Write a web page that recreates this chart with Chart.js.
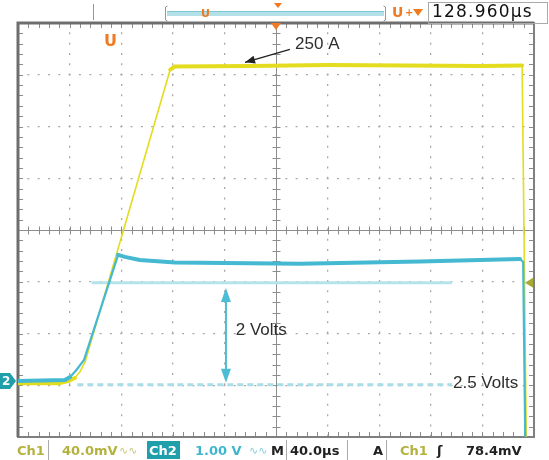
<!DOCTYPE html>
<html>
<head>
<meta charset="utf-8">
<script src="https://cdn.jsdelivr.net/npm/chart.js"></script>
<style>
html, body { margin: 0; padding: 0; background: #fff; }
#wrap { width: 549px; height: 460px; position: relative; }
</style>
</head>
<body>
<div id="wrap"><canvas id="scope"></canvas></div>
<script>
/*------------------------------*/
/*   Traces, in screen divisions */
/*   x: 0..10, y: 0..8          */
/*------------------------------*/
var ch1X = [0, 0.81, 0.97, 1.10, 1.20, 1.30, 2.95, 3.04, 4.50, 6.00, 7.50, 9.00, 9.77, 9.85]
var ch1Y = [1.04, 1.04, 1.08, 1.14, 1.26, 1.45, 7.10, 7.16, 7.17, 7.19, 7.18, 7.17, 7.18, 0]

var ch2X = [0, 0.91, 1.01, 1.12, 1.28, 1.94, 2.07, 2.36, 3.04, 5.47, 7.79, 9.73, 9.79, 9.83]
var ch2Y = [1.08, 1.10, 1.16, 1.28, 1.49, 3.52, 3.48, 3.42, 3.37, 3.35, 3.39, 3.44, 3.38, 0]

// cursors (2 Volts apart)
var cursorTopX = [1.43, 8.41]
var cursorTopY = [2.98, 2.98]
var cursorLowX = [1.15, 8.41]
var cursorLowY = [1.01, 1.01]
var ch2Ground = 1.08

// measurement arrows
var voltArrowX = [4.03, 4.03]
var voltArrowY = [2.88, 1.05]
var ampArrowX = [5.27, 4.40]
var ampArrowY = [7.49, 7.24]

function pts(xs, ys) {
    return xs.map(function (x, i) { return { x: x, y: ys[i] } })
}

// noisy flat parts look thicker than the fast edges
function traceWidth(thick, thin) {
    return function (ctx) {
        var dx = Math.abs(ctx.p1.x - ctx.p0.x)
        var dy = Math.abs(ctx.p1.y - ctx.p0.y)
        return dy < dx ? thick : thin
    }
}

function gridColor(mid, end) {
    return function (ctx) {
        var v = ctx.tick ? ctx.tick.value : -1
        return (v === 0 || v === mid || v === end) ? 'rgba(0,0,0,0)' : '#a8a8a8'
    }
}

var OLIVE = '#b3b23e'
var TEAL = '#1f9fa9'
var CYAN = '#3fb6cf'
var ORANGE = '#f07a22'

var scopeDecor = {
    id: 'scopeDecor',
    beforeDatasetsDraw: function (chart) {
        var c = chart.ctx, a = chart.chartArea
        var xs = chart.scales.x, ys = chart.scales.y
        var cx = Math.round(xs.getPixelForValue(5)) + 0.5
        var cy = Math.round(ys.getPixelForValue(4)) + 0.5
        c.save()
        c.strokeStyle = '#8c8c8c'
        c.lineWidth = 1
        c.beginPath()
        c.moveTo(a.left, cy); c.lineTo(a.right, cy)
        c.moveTo(cx, a.top); c.lineTo(cx, a.bottom)
        for (var i = 0; i <= 50; i++) {
            var px = Math.round(xs.getPixelForValue(i * 0.2)) + 0.5
            c.moveTo(px, cy - 4); c.lineTo(px, cy + 4)
            c.moveTo(px, a.top); c.lineTo(px, a.top + 5)
            c.moveTo(px, a.bottom); c.lineTo(px, a.bottom - 5)
        }
        for (var j = 0; j <= 40; j++) {
            var py = Math.round(ys.getPixelForValue(j * 0.2)) + 0.5
            c.moveTo(cx - 4, py); c.lineTo(cx + 4, py)
            c.moveTo(a.left, py); c.lineTo(a.left + 5, py)
            c.moveTo(a.right, py); c.lineTo(a.right - 5, py)
        }
        c.stroke()
        // frame
        c.strokeStyle = '#808080'
        c.lineWidth = 2
        c.strokeRect(a.left, a.top, a.right - a.left, a.bottom - a.top)
        c.lineWidth = 3
        c.strokeStyle = '#6e6e6e'
        c.beginPath()
        c.moveTo(a.left, a.bottom); c.lineTo(a.left, a.top); c.lineTo(a.right, a.top)
        c.stroke()
        c.restore()
    },
    afterDatasetsDraw: function (chart) {
        var c = chart.ctx, a = chart.chartArea
        var xs = chart.scales.x, ys = chart.scales.y
        c.save()
        // 2 Volts double arrow
        var ax = xs.getPixelForValue(voltArrowX[0])
        var ay0 = ys.getPixelForValue(voltArrowY[0])
        var ay1 = ys.getPixelForValue(voltArrowY[1])
        c.strokeStyle = '#4dbdd5'
        c.fillStyle = '#4dbdd5'
        c.lineWidth = 2
        c.beginPath()
        c.moveTo(ax, ay0 + 10); c.lineTo(ax, ay1 - 10)
        c.stroke()
        c.beginPath()
        c.moveTo(ax, ay0); c.lineTo(ax - 5, ay0 + 14); c.lineTo(ax + 5, ay0 + 14); c.closePath()
        c.moveTo(ax, ay1); c.lineTo(ax - 5, ay1 - 14); c.lineTo(ax + 5, ay1 - 14); c.closePath()
        c.fill()
        // 250 A pointer
        var bx0 = xs.getPixelForValue(ampArrowX[0]), by0 = ys.getPixelForValue(ampArrowY[0])
        var bx1 = xs.getPixelForValue(ampArrowX[1]), by1 = ys.getPixelForValue(ampArrowY[1])
        var ang = Math.atan2(by1 - by0, bx1 - bx0)
        c.strokeStyle = '#222'
        c.fillStyle = '#222'
        c.lineWidth = 1.3
        c.beginPath(); c.moveTo(bx0, by0); c.lineTo(bx1, by1); c.stroke()
        c.beginPath()
        c.moveTo(bx1, by1)
        c.lineTo(bx1 - 10 * Math.cos(ang) + 4 * Math.sin(ang), by1 - 10 * Math.sin(ang) - 4 * Math.cos(ang))
        c.lineTo(bx1 - 10 * Math.cos(ang) - 4 * Math.sin(ang), by1 - 10 * Math.sin(ang) + 4 * Math.cos(ang))
        c.closePath(); c.fill()
        // labels
        c.fillStyle = '#2e2e2e'
        c.font = '17px "Liberation Sans", Arial, sans-serif'
        c.textBaseline = 'middle'
        c.fillText('250 A', xs.getPixelForValue(5.37), ys.getPixelForValue(7.58))
        c.fillText('2 Volts', xs.getPixelForValue(4.22), ys.getPixelForValue(2.07))
        c.fillText('2.5 Volts', xs.getPixelForValue(8.43), ys.getPixelForValue(1.04))
        // trigger marks
        var tx = xs.getPixelForValue(5)
        c.fillStyle = ORANGE
        c.beginPath(); c.moveTo(tx - 5, a.top); c.lineTo(tx + 5, a.top); c.lineTo(tx, a.top + 7); c.closePath(); c.fill()
        c.font = 'bold 16px "DejaVu Sans", sans-serif'
        c.fillText('U', 104, 42)
        var ly = ys.getPixelForValue(cursorTopY[0])
        c.fillStyle = '#a9a832'
        c.beginPath(); c.moveTo(a.right - 9, ly); c.lineTo(a.right - 1, ly - 5); c.lineTo(a.right - 1, ly + 5); c.closePath(); c.fill()
        // ch2 ground marker
        var gy = ys.getPixelForValue(ch2Ground)
        c.fillStyle = TEAL
        c.beginPath()
        c.moveTo(0, gy - 8); c.lineTo(10, gy - 8); c.lineTo(16, gy); c.lineTo(10, gy + 8); c.lineTo(0, gy + 8)
        c.closePath(); c.fill()
        c.fillStyle = '#fff'
        c.font = 'bold 12px "DejaVu Sans", sans-serif'
        c.fillText('2', 2, gy + 1)
        c.restore()
    },
    afterDraw: function (chart) {
        var c = chart.ctx
        c.save()
        // top status strip
        c.strokeStyle = '#999'
        c.lineWidth = 1
        c.beginPath()
        c.moveTo(93.5, 4); c.lineTo(93.5, 20)
        c.moveTo(167.5, 6); c.lineTo(165.5, 7); c.lineTo(165.5, 20); c.lineTo(167.5, 21)
        c.moveTo(383.5, 6); c.lineTo(385.5, 7); c.lineTo(385.5, 20); c.lineTo(383.5, 21)
        c.stroke()
        c.fillStyle = '#b3e1e7'
        c.fillRect(167, 11, 217, 5)
        c.fillStyle = '#7cc8d4'
        c.fillRect(167, 11, 217, 1)
        c.fillStyle = ORANGE
        c.font = 'bold 11px "DejaVu Sans", sans-serif'
        c.textBaseline = 'middle'
        c.fillText('U', 201, 14)
        c.beginPath(); c.moveTo(274, 3); c.lineTo(282, 3); c.lineTo(278, 8); c.closePath(); c.fill()
        c.font = 'bold 14px "DejaVu Sans", sans-serif'
        c.fillText('U', 392, 13)
        c.font = 'bold 10px "DejaVu Sans", sans-serif'
        c.fillText('+', 405, 13)
        c.beginPath(); c.moveTo(413, 9); c.lineTo(423, 9); c.lineTo(418, 16); c.closePath(); c.fill()
        c.strokeStyle = '#aaa'
        c.strokeRect(428.5, 2.5, 119, 21)
        c.fillStyle = '#111'
        c.font = '17px "DejaVu Sans", sans-serif'
        c.letterSpacing = '1.2px'
        c.fillText('128.960µs', 432, 13)
        c.letterSpacing = '0px'

        // bottom status strip
        c.textBaseline = 'alphabetic'
        c.font = 'bold 13px "DejaVu Sans", sans-serif'
        var base = 455
        c.fillStyle = OLIVE
        c.fillText('Ch1', 17, base)
        c.fillText('40.0mV', 62, base)
        c.fillStyle = TEAL
        c.fillRect(147, 441, 33, 18)
        c.fillStyle = '#fff'
        c.fillText('Ch2', 149, base)
        c.fillStyle = CYAN
        c.fillText('1.00 V', 195, base)
        c.fillStyle = '#222'
        c.fillText('M', 271, base)
        c.fillText('40.0µs', 290, base)
        c.fillText('A', 373, base)
        c.fillText('\u0283', 437, base)
        c.fillText('78.4mV', 466, base)
        c.fillStyle = OLIVE
        c.fillText('Ch1', 400, base)
        c.font = '11px "DejaVu Sans", sans-serif'
        c.fillStyle = '#c9c98a'
        c.fillText('\u223F\u223F', 119, base - 1)
        c.fillStyle = '#8fd0dd'
        c.fillText('\u223F\u223F', 249, base - 1)
        c.strokeStyle = '#aaa'
        c.beginPath()
        c.moveTo(48.5, 440); c.lineTo(48.5, 460)
        c.moveTo(286.5, 440); c.lineTo(286.5, 460)
        c.moveTo(347.5, 440); c.lineTo(347.5, 460)
        c.moveTo(386.5, 440); c.lineTo(386.5, 460)
        c.stroke()
        c.restore()
    }
}

var ctx_scope = document.getElementById('scope').getContext('2d')

var data_scope = {
    datasets: [
        {
            label: 'Ch2',
            data: pts(ch2X, ch2Y),
            borderColor: '#45b9d2',
            segment: { borderWidth: traceWidth(4, 2.2) },
            borderCapStyle: 'round',
            borderJoinStyle: 'round'
        },
        {
            label: 'Ch1',
            data: pts(ch1X, ch1Y),
            borderColor: '#e4dc1e',
            segment: { borderWidth: traceWidth(4, 1.6) },
            borderCapStyle: 'round',
            borderJoinStyle: 'round'
        },
        {
            label: 'Cursor top',
            data: pts(cursorTopX, cursorTopY),
            borderColor: '#b6e3eb',
            borderWidth: 3
        },
        {
            label: 'Cursor low',
            data: pts(cursorLowX, cursorLowY),
            borderColor: '#a9dde7',
            borderWidth: 3,
            borderDash: [6, 4]
        }
    ]
}

var config_scope = {
    type: 'scatter',
    data: data_scope,
    options: {
        responsive: true,
        maintainAspectRatio: false,
        animation: false,
        showLine: true,
        elements: {
            point: { radius: 0, hoverRadius: 0 },
            line: { tension: 0, fill: false }
        },
        layout: { padding: { left: 18, right: 15, top: 23, bottom: 23 } },
        scales: {
            x: {
                type: 'linear', min: 0, max: 10,
                ticks: { display: false, stepSize: 1 },
                grid: { color: gridColor(5, 10), lineWidth: 1.3, drawTicks: false },
                border: { display: false, dash: [2, 8.32], dashOffset: 1 }
            },
            y: {
                type: 'linear', min: 0, max: 8,
                ticks: { display: false, stepSize: 1 },
                grid: { color: gridColor(4, 8), lineWidth: 1.3, drawTicks: false },
                border: { display: false, dash: [2, 8.32], dashOffset: 1 }
            }
        },
        plugins: {
            legend: { display: false },
            tooltip: { enabled: false }
        }
    },
    plugins: [scopeDecor]
}

var graph_scope = new Chart(ctx_scope, config_scope)
</script>
</body>
</html>
